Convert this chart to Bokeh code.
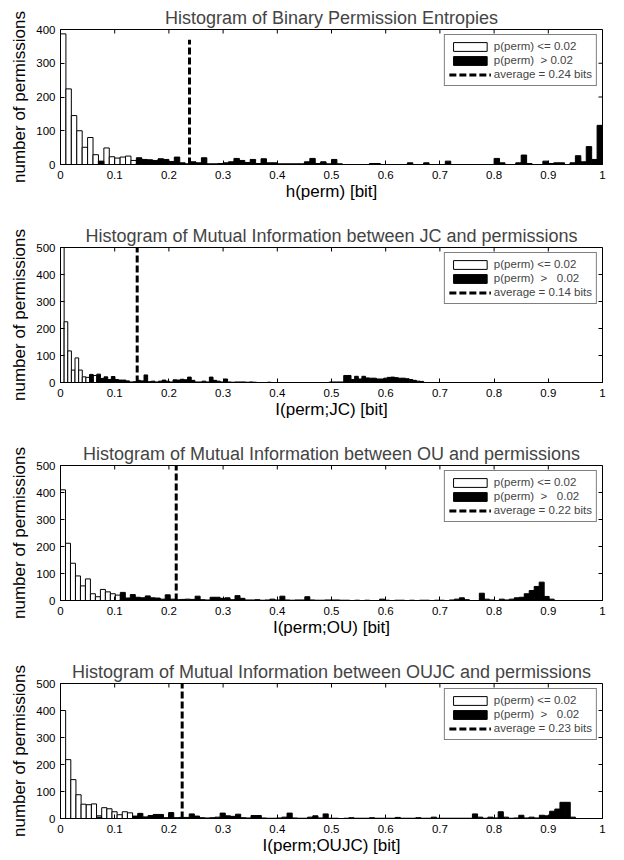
from bokeh.plotting import figure
from bokeh.layouts import column
from bokeh.models import Legend, LegendItem, FixedTicker, NumeralTickFormatter
from bokeh.embed import file_html
from bokeh.resources import INLINE

# ---------------- data ----------------
titles = [
    "Histogram of Binary Permission Entropies",
    "Histogram of Mutual Information between JC and permissions",
    "Histogram of Mutual Information between OU and permissions",
    "Histogram of Mutual Information between OUJC and permissions",
]
x_labels = ["h(perm) [bit]", "I(perm;JC) [bit]", "I(perm;OU) [bit]", "I(perm;OUJC) [bit]"]
y_label = "number of permissions"
x_ticks = [0, 0.1, 0.2, 0.3, 0.4, 0.5, 0.6, 0.7, 0.8, 0.9, 1]
y_ticks_list = [[0, 100, 200, 300, 400], [0, 100, 200, 300, 400, 500],
                [0, 100, 200, 300, 400, 500], [0, 100, 200, 300, 400, 500]]
y_max = [400, 500, 500, 500]
bin_widths = [0.01, 0.0067, 0.0092, 0.0095]
averages = [0.238, 0.1415, 0.2135, 0.2245]
avg_line_top = [370, 500, 500, 500]
low_labels = ["p(perm) <= 0.02"] * 4
high_labels = ["p(perm)\u00a0\u00a0> 0.02"] + ["p(perm)\u00a0\u00a0>\u00a0\u00a0\u00a00.02"] * 3
avg_labels = ["average = 0.24 bits", "average = 0.14 bits", "average = 0.22 bits", "average = 0.23 bits"]

# counts per bin (bin k covers [k*w, (k+1)*w))
white_h = [387, 224, 145, 100, 51, 80, 29, 8, 49, 23, 19, 22, 25, 12]
black_h = [0, 0, 0, 0, 0, 0, 0, 10, 0, 0, 0, 0, 0, 0, 20, 15, 14, 12, 17, 15,
           9, 22, 5, 2, 8, 5, 20, 2, 2, 3, 5, 8, 18, 12, 6, 15, 3, 17, 5, 5,
           2, 2, 2, 2, 2, 8, 18, 3, 8, 2, 15, 2, 0, 0, 0, 0, 0, 3, 3, 0,
           0, 0, 0, 0, 5, 0, 0, 5, 0, 0, 0, 10, 0, 0, 0, 0, 0, 0, 0, 0,
           18, 5, 0, 0, 5, 28, 3, 0, 0, 10, 3, 5, 5, 0, 5, 26, 8, 53, 15, 116]

white_jc = [620, 225, 117, 46, 91, 46, 21, 19, 12, 26, 10, 8]
black_jc = [0, 0, 0, 0, 0, 0, 0, 0, 30, 0, 31, 15, 21, 11, 22, 11, 9, 9, 6, 2,
            3, 8, 6, 28, 3, 5, 2, 5, 9, 5, 2, 10, 9, 12, 10, 20, 8, 2, 2, 5,
            2, 20, 8, 5, 2, 13, 2, 1, 2, 2, 2, 1, 2, 1, 0, 0, 0, 1, 0, 0,
            0, 0, 0, 0, 0, 0, 0, 0, 0, 0, 0, 0, 0, 0, 2, 2, 2, 2, 26, 26,
            11, 23, 13, 23, 17, 16, 16, 13, 13, 16, 19, 20, 18, 16, 16, 14, 11, 8, 5, 4]

white_ou = [410, 212, 138, 91, 54, 80, 25, 14, 41, 32, 25, 20, 5, 8]
black_ou = [0, 0, 0, 0, 0, 0, 0, 0, 0, 0, 0, 0, 30, 9, 22, 12, 10, 17, 10, 9,
            5, 21, 5, 3, 4, 5, 4, 16, 3, 2, 12, 12, 8, 10, 3, 18, 8, 2, 2, 3,
            1, 2, 5, 2, 16, 2, 1, 2, 2, 14, 2, 1, 1, 2, 2, 2, 1, 1, 0, 1,
            0, 1, 0, 0, 5, 1, 0, 1, 1, 0, 1, 0, 1, 1, 0, 1, 1, 0, 2, 5,
            10, 3, 0, 0, 27, 5, 2, 0, 5, 2, 5, 10, 12, 25, 37, 52, 68, 15, 5, 0]

white_oujc = [400, 218, 144, 88, 53, 51, 54, 10, 40, 36, 25, 14, 25, 21]
black_oujc = [0, 0, 0, 0, 0, 0, 0, 5, 0, 0, 0, 0, 0, 0, 9, 19, 6, 11, 15, 15,
              3, 22, 3, 4, 4, 17, 9, 3, 2, 3, 5, 20, 10, 8, 16, 3, 2, 11, 11, 2,
              1, 1, 2, 5, 20, 2, 1, 1, 5, 10, 2, 17, 1, 1, 0, 1, 3, 1, 1, 1,
              3, 1, 1, 1, 1, 4, 1, 1, 1, 3, 1, 1, 5, 1, 1, 1, 1, 1, 1, 1,
              17, 5, 1, 5, 2, 25, 5, 1, 2, 12, 2, 5, 2, 12, 10, 27, 35, 60, 60, 5]

white_series = [white_h, white_jc, white_ou, white_oujc]
black_series = [black_h, black_jc, black_ou, black_oujc]

# ---------------- styling ----------------
FONT = "Liberation Sans"
fig_heights = [218, 218, 218, 206]
bottom_borders = [54, 54, 54, 42]


def bars(counts, w):
    ks = [k for k, c in enumerate(counts) if c > 0]
    return dict(left=[k * w for k in ks], right=[(k + 1) * w for k in ks],
                top=[counts[k] for k in ks], bottom=[0] * len(ks))


figs = []
for i in range(4):
    w = bin_widths[i]
    yt = y_ticks_list[i]
    p = figure(width=624, height=fig_heights[i], x_range=(0, 1), y_range=(0, y_max[i]),
               output_backend="svg", toolbar_location=None,
               min_border_left=60, min_border_right=22, min_border_top=29,
               min_border_bottom=bottom_borders[i])
    p.background_fill_color = "white"
    p.border_fill_color = "white"
    p.outline_line_color = "black"
    p.outline_line_width = 1
    p.grid.visible = False

    p.title.text = titles[i]
    p.title.text_font = FONT
    p.title.text_font_size = "18px"
    p.title.text_font_style = "normal"
    p.title.align = "center"
    p.title.standoff = 4

    xa = p.xaxis[0]
    xa.ticker = FixedTicker(ticks=x_ticks)
    xa.formatter = NumeralTickFormatter(format="0.[0]")
    xa.axis_label = x_labels[i]
    ya = p.yaxis[0]
    ya.ticker = FixedTicker(ticks=yt)
    ya.axis_label = y_label
    for ax in (xa, ya):
        ax.major_tick_in = 4
        ax.major_tick_out = 0
        ax.minor_tick_line_color = None
        ax.axis_line_color = "black"
        ax.major_tick_line_color = "black"
        ax.major_label_text_font = FONT
        ax.major_label_text_font_size = "11.5px"
        ax.major_label_text_color = "black"
        ax.axis_label_text_font = FONT
        ax.axis_label_text_font_size = "17px"
        ax.axis_label_text_font_style = "normal"
        ax.axis_label_text_color = "black"
    xa.major_label_standoff = 6
    xa.axis_label_standoff = 0
    ya.major_label_standoff = 5
    ya.axis_label_standoff = 4

    # inward tick marks on the top and right edges of the box
    p.ray(x=x_ticks, y=[y_max[i]] * len(x_ticks), length=4, angle=-90,
          angle_units="deg", length_units="screen", line_color="black", line_width=1)
    p.ray(x=[1] * len(yt), y=yt, length=4, angle=180,
          angle_units="deg", length_units="screen", line_color="black", line_width=1)

    rw = p.quad(**bars(white_series[i], w), fill_color="white",
                line_color="black", line_width=1)
    rb = p.quad(**bars(black_series[i], w), fill_color="black",
                line_color="black", line_width=1)
    rl = p.line(x=[averages[i], averages[i]], y=[0, avg_line_top[i]], line_color="black",
                line_width=3, line_dash="7 3")

    legend = Legend(items=[LegendItem(label=low_labels[i], renderers=[rw]),
                           LegendItem(label=high_labels[i], renderers=[rb]),
                           LegendItem(label=avg_labels[i], renderers=[rl])],
                    location="top_right", margin=5, padding=4, spacing=0,
                    glyph_width=42, glyph_height=11, label_height=14,
                    label_standoff=3, label_text_font=FONT,
                    label_text_font_size="11.5px", border_line_color="black",
                    border_line_width=1, background_fill_color="white",
                    background_fill_alpha=1)
    p.add_layout(legend)
    figs.append(p)

layout = column(*figs, spacing=0)
open("out.html", "w").write(file_html(layout, INLINE))
